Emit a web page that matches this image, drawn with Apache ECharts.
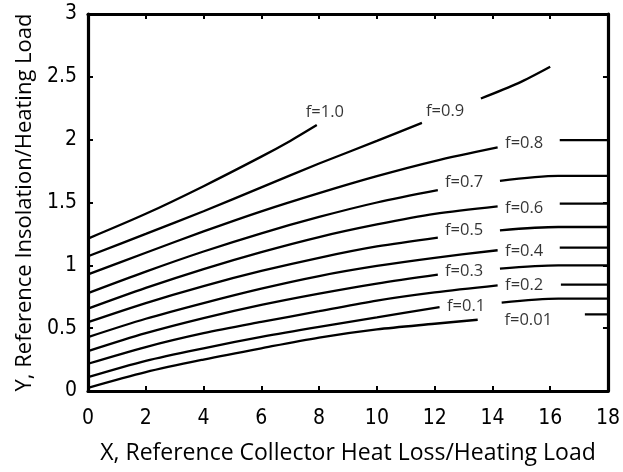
<!DOCTYPE html>
<html>
<head>
<meta charset="utf-8">
<script src="https://cdn.jsdelivr.net/npm/echarts@6/dist/echarts.min.js"></script>
<style>
html,body{margin:0;padding:0;background:#fff;}
#chart{width:623px;height:472px;}
</style>
</head>
<body>
<div id="chart"></div>
<script>
// Curve data: [X, Y] pairs; each curve may have a left and right segment
const f100 = [[0,1.213],[2,1.41],[4,1.63],[6,1.865],[7,1.99],[7.92,2.116]];
const f090L = [[0,1.072],[2,1.25],[4,1.43],[6,1.62],[8,1.81],[10,1.99],[11.56,2.134]];
const f090R = [[13.6,2.328],[14.9,2.45],[16,2.58]];
const f080L = [[0,0.928],[2,1.10],[4,1.27],[6,1.43],[8,1.575],[10,1.71],[12,1.83],[14.18,1.938]];
const f080R = [[16.33,1.996],[18,1.996]];
const f070L = [[0,0.779],[2,0.95],[4,1.11],[6,1.255],[8,1.385],[10,1.50],[12.11,1.598]];
const f070R = [[14.26,1.672],[16.28,1.712],[18,1.712]];
const f060L = [[0,0.655],[2,0.82],[4,0.97],[6,1.105],[8,1.225],[10,1.325],[12,1.41],[14.18,1.47]];
const f060R = [[16.33,1.491],[18,1.491]];
const f050L = [[0,0.548],[2,0.70],[4,0.835],[6,0.955],[8,1.06],[10,1.15],[12.11,1.221]];
const f050R = [[14.26,1.279],[16.28,1.305],[18,1.305]];
const f040L = [[0,0.429],[2,0.575],[4,0.70],[6,0.815],[8,0.915],[10,0.995],[12,1.06],[14.18,1.12]];
const f040R = [[16.33,1.141],[18,1.141]];
const f030L = [[0,0.317],[2,0.46],[4,0.58],[6,0.685],[8,0.775],[10,0.855],[12.11,0.926]];
const f030R = [[14.26,0.974],[16.28,1.0],[18,1.0]];
const f020L = [[0,0.217],[2,0.35],[4,0.46],[6,0.55],[8,0.635],[10,0.72],[12,0.785],[14.18,0.841]];
const f020R = [[16.37,0.846],[18,0.846]];
const f010L = [[0,0.11],[2,0.24],[4,0.34],[6,0.43],[8,0.51],[10,0.585],[12.17,0.668]];
const f010R = [[14.32,0.703],[16.28,0.735],[18,0.735]];
const f001L = [[0,0.025],[2,0.15],[4,0.25],[6,0.34],[8,0.425],[10,0.49],[12,0.535],[13.49,0.567]];
const f001R = [[17.2,0.61],[18,0.61]];

// Curve labels and their positions (data coordinates)
const labelNames = ['f=1.0','f=0.9','f=0.8','f=0.7','f=0.6','f=0.5','f=0.4','f=0.3','f=0.2','f=0.1','f=0.01'];
const labelX = [8.2, 12.36, 15.1, 13.02, 15.1, 13.02, 15.1, 13.02, 15.1, 13.09, 15.24];
const labelY = [2.215, 2.229, 1.972, 1.657, 1.45, 1.279, 1.113, 0.951, 0.839, 0.672, 0.562];

// Axis settings
const xTitle = 'X, Reference Collector Heat Loss/Heating Load';
const yTitle = 'Y, Reference Insolation/Heating Load';
const xMin = 0, xMax = 18, xStep = 2;
const yMin = 0, yMax = 3, yStep = 0.5;

const segments = [f100, f090L, f090R, f080L, f080R, f070L, f070R, f060L, f060R, f050L, f050R,
  f040L, f040R, f030L, f030R, f020L, f020R, f010L, f010R, f001L, f001R];

const tickFont = "'Liberation Sans Narrow','DejaVu Sans',sans-serif";
const textFont = "'Open Sans','Noto Sans',sans-serif";

const lineSeries = segments.map(seg => ({
  type: 'line',
  data: seg,
  showSymbol: false,
  symbol: 'none',
  smooth: 0.3,
  lineStyle: { color: '#000', width: 2.3 },
  silent: true,
  z: 3
}));

const labelSeries = {
  type: 'scatter',
  symbolSize: 1,
  itemStyle: { color: 'rgba(0,0,0,0)' },
  data: labelNames.map((n, i) => ({ name: n, value: [labelX[i], labelY[i]] })),
  label: {
    show: true,
    position: 'inside',
    formatter: p => p.name,
    color: '#000',
    fontFamily: textFont,
    fontSize: 16.5
  },
  silent: true,
  z: 4
};

const axisCommon = {
  axisLine: { show: true, onZero: false, lineStyle: { color: '#000', width: 3.2 } },
  axisTick: { show: true, inside: true, length: 5, lineStyle: { color: '#000', width: 2 } },
  splitLine: { show: false }
};

const tickLabelStyle = { fontFamily: tickFont, fontWeight: 'condensed', fontSize: 21, color: '#000' };

const chart = echarts.init(document.getElementById('chart'), null, { renderer: 'canvas' });
chart.setOption({
  animation: false,
  backgroundColor: '#fff',
  grid: { left: 88, right: 13, top: 14, bottom: 81, containLabel: false },
  xAxis: [
    Object.assign({
      type: 'value', min: xMin, max: xMax, interval: xStep, position: 'bottom',
      name: xTitle, nameLocation: 'middle', nameGap: 51,
      nameTextStyle: { fontFamily: textFont, fontSize: 23, color: '#000' },
      axisLabel: Object.assign({ margin: 17 }, tickLabelStyle)
    }, axisCommon),
    Object.assign({
      type: 'value', min: xMin, max: xMax, interval: xStep, position: 'top',
      axisLabel: { show: false }
    }, axisCommon)
  ],
  yAxis: [
    Object.assign({
      type: 'value', min: yMin, max: yMax, interval: yStep, position: 'left',
      name: yTitle, nameLocation: 'middle', nameGap: 52,
      nameTextStyle: { fontFamily: textFont, fontSize: 22, color: '#000' },
      axisLabel: Object.assign({ margin: 11 }, tickLabelStyle)
    }, axisCommon),
    Object.assign({
      type: 'value', min: yMin, max: yMax, interval: yStep, position: 'right',
      axisLabel: { show: false }
    }, axisCommon)
  ],
  series: lineSeries.concat([labelSeries])
});
</script>
</body>
</html>
